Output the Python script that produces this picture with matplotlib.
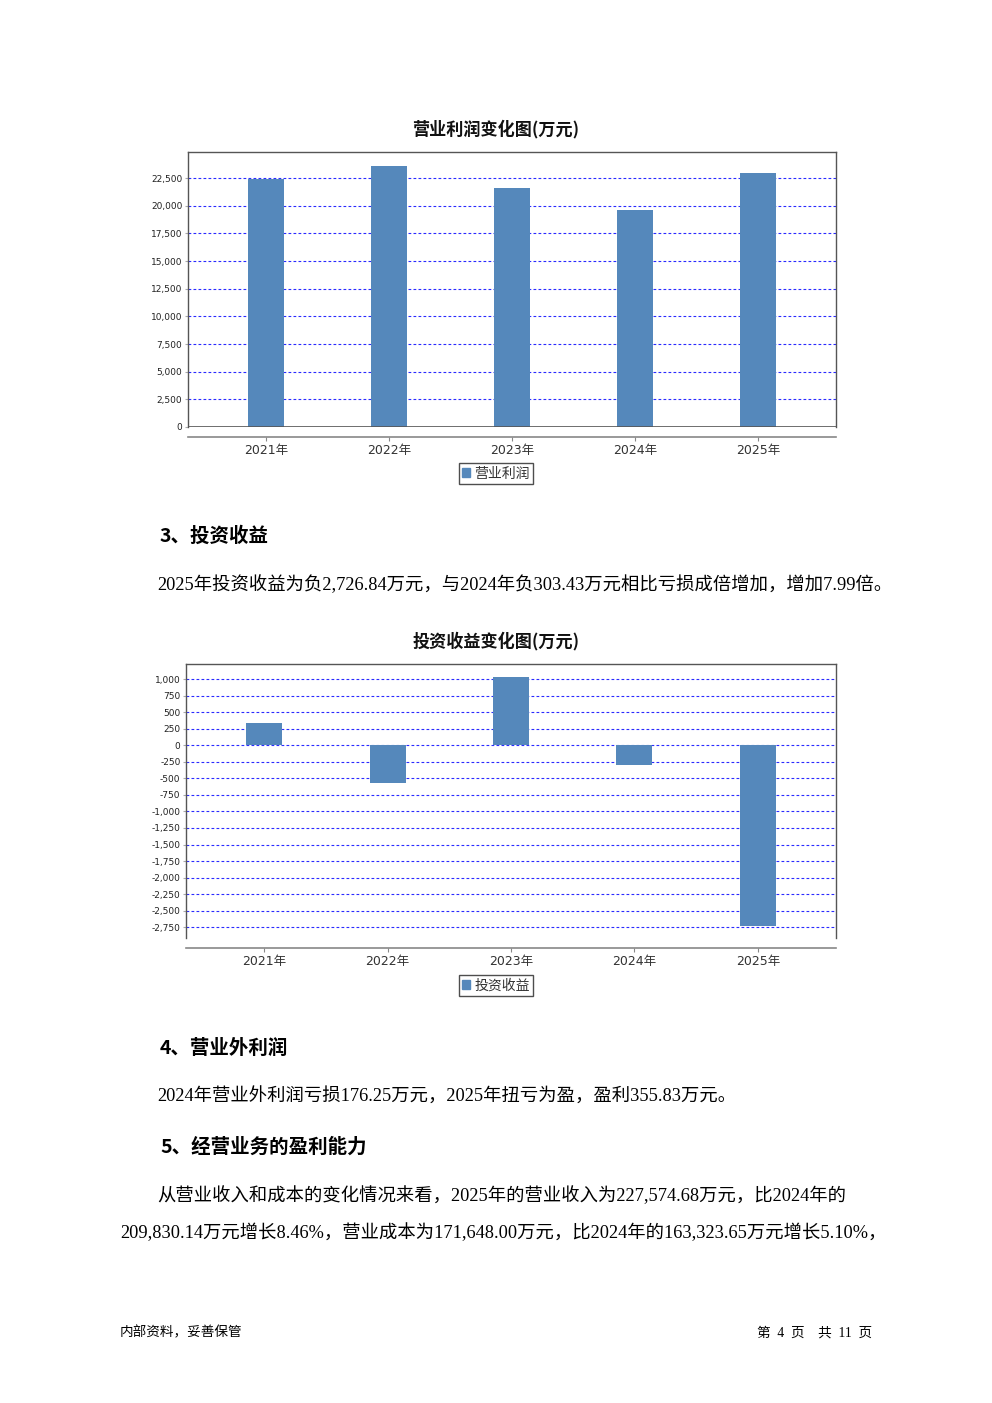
import matplotlib
matplotlib.use("Agg")
import matplotlib.pyplot as plt
from matplotlib.patches import Patch
from matplotlib.ticker import FuncFormatter

plt.rcParams['font.family'] = ['DejaVu Sans', 'Noto Sans CJK SC']

# ---- data ----
years = ["2021年", "2022年", "2023年", "2024年", "2025年"]
op_profit = [22370, 23610, 21620, 19630, 22950]          # 营业利润 (万元)
invest_income = [337, -568, 1031, -303.43, -2726.84]     # 投资收益 (万元)
op_ticks = list(range(0, 22501, 2500))
inv_ticks = list(range(-2750, 1001, 250))

W, H = 992, 1403
fig = plt.figure(figsize=(W / 100, H / 100), dpi=100)
fig.patch.set_facecolor("white")

BAR = "#5588bb"
GRID = "#2a2aff"
FRAME = "#555555"
SERIF = ['Liberation Serif', 'Noto Sans CJK SC']
CJK = ['Noto Sans CJK SC', 'DejaVu Sans']


def fx(x):
    return x / W


def fy(y):
    return 1 - y / H


def make_chart(rect, values, ticks, ylim, title, title_y, legend_label, legend_y, zero_line):
    l, t, r, b = rect
    ax = fig.add_axes([fx(l), fy(b), fx(r) - fx(l), (b - t) / H])
    x = list(range(len(years)))
    ax.bar(x, values, width=0.29, color=BAR, zorder=3)
    ax.set_xlim(-0.634, len(years) - 1 + 0.634)
    ax.set_ylim(*ylim)
    ax.set_yticks(ticks)
    ax.yaxis.set_major_formatter(FuncFormatter(lambda v, p: f"{v:,.0f}"))
    for tv in ticks:
        if zero_line and tv == 0:
            continue
        ax.axhline(tv, color=GRID, lw=0.8, ls=(0, (2.5, 2)), zorder=1)
    if zero_line:
        ax.axhline(0, color=FRAME, lw=1.2, zorder=4)
    for s in ["top", "right", "left"]:
        ax.spines[s].set_color(FRAME)
        ax.spines[s].set_linewidth(1.0)
    ax.spines["bottom"].set_position(("outward", 7))
    ax.spines["bottom"].set_color("#888888")
    ax.spines["bottom"].set_linewidth(1.2)
    ax.set_xticks(x)
    ax.set_xticklabels(years)
    ax.tick_params(axis="x", length=3, color="#888888", labelsize=9, labelcolor="#333333", pad=2)
    ax.tick_params(axis="y", length=2, color="#aaaaaa", labelsize=6.5, labelcolor="#222222", pad=2)
    fig.text(0.5, fy(title_y), title, ha="center", va="center", fontsize=12.3, fontweight="bold",
             family=CJK, color="#111111")
    leg = fig.legend(handles=[Patch(facecolor=BAR, edgecolor=BAR, label=legend_label)],
                     loc="center", bbox_to_anchor=(0.5, fy(legend_y)), frameon=True,
                     fancybox=False, fontsize=10, handlelength=0.6, handleheight=0.6,
                     handletextpad=0.3, borderpad=0.22, borderaxespad=0)
    leg.get_frame().set_edgecolor("#222222")
    leg.get_frame().set_linewidth(1.0)
    for tx in leg.get_texts():
        tx.set_color("#333333")
        tx.set_family(CJK)
    return ax


make_chart((188, 152, 836, 427), op_profit, op_ticks, (0, 24850),
           "营业利润变化图(万元)", 129, "营业利润", 473.5, True)
make_chart((186, 664, 836, 938), invest_income, inv_ticks, (-2912, 1227),
           "投资收益变化图(万元)", 641, "投资收益", 985.5, False)

# ---- body text ----
def body(x, y, s, size=13.2, bold=False):
    fig.text(fx(x), fy(y), s, ha="left", va="center", fontsize=size,
             fontweight="bold" if bold else "normal", family=SERIF if not bold else CJK,
             color="#000000")


body(160, 536, "3、投资收益", 14, True)
body(157, 585, "2025年投资收益为负2,726.84万元，与2024年负303.43万元相比亏损成倍增加，增加7.99倍。")
body(160, 1048, "4、营业外利润", 14, True)
body(157, 1097, "2024年营业外利润亏损176.25万元，2025年扭亏为盈，盈利355.83万元。")
body(160, 1147, "5、经营业务的盈利能力", 14, True)
body(157, 1196, "从营业收入和成本的变化情况来看，2025年的营业收入为227,574.68万元，比2024年的")
body(120, 1233, "209,830.14万元增长8.46%，营业成本为171,648.00万元，比2024年的163,323.65万元增长5.10%，")

fig.text(fx(120), fy(1333), "内部资料，妥善保管", ha="left", va="center", fontsize=9.8, family=SERIF)
fig.text(fx(872), fy(1333), "第  4  页    共  11  页", ha="right", va="center", fontsize=9.8, family=SERIF)

fig.savefig("out.png", dpi=100, facecolor="white")
